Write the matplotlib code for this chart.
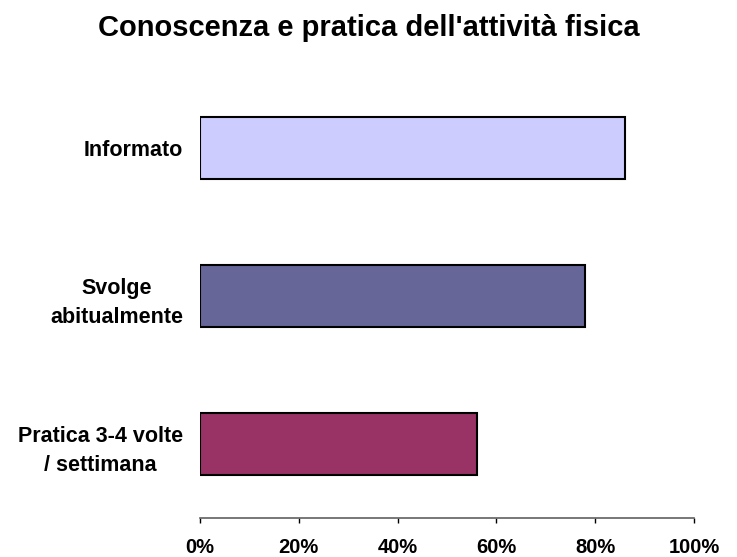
import numpy as np
import matplotlib.pyplot as plt
from matplotlib.ticker import FuncFormatter

# dati
categorie = ['Informato', 'Svolge\nabitualmente', 'Pratica 3-4 volte\n/ settimana']
valori = [86, 78, 56]
colori = ['#CCCCFF', '#666699', '#993366']
ticks_x = [0, 20, 40, 60, 80, 100]

plt.rcParams['font.family'] = ['Liberation Sans', 'DejaVu Sans']

fig = plt.figure(figsize=(7.37, 5.57), dpi=100)
ax = fig.add_axes([200/737, 1-518/557, 494/737, 444/557])

y = np.arange(len(categorie))
ax.barh(y, valori, height=0.42, color=colori, edgecolor='black', linewidth=1.5)

ax.set_xlim(0, 100)
ax.set_ylim(len(categorie) - 0.5, -0.5)
ax.set_xticks(ticks_x)
ax.xaxis.set_major_formatter(FuncFormatter(lambda v, p: f'{v:.0f}%'))
ax.set_yticks(y)
ax.set_yticklabels(categorie, fontweight='bold', fontsize=15.5, linespacing=1.55,
                   multialignment='center')
ax.tick_params(axis='y', length=0, pad=12)
ax.tick_params(axis='x', length=3.5, width=1, labelsize=14.5, pad=11, color='black')
for lab in ax.get_xticklabels():
    lab.set_fontweight('bold')

for s in ['top', 'right', 'left']:
    ax.spines[s].set_visible(False)
ax.spines['bottom'].set_color('#606060')
ax.spines['bottom'].set_linewidth(1.2)

fig.text(0.5, 1-28/557, "Conoscenza e pratica dell'attività fisica", ha='center', va='center',
         fontsize=21, fontweight='bold')

plt.savefig('out.png', dpi=100)
